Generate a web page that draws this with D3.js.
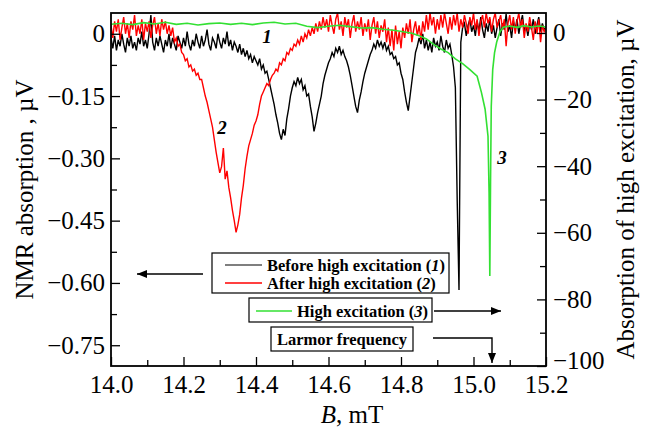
<!DOCTYPE html>
<html>
<head>
<meta charset="utf-8">
<script src="https://cdn.jsdelivr.net/npm/d3@7"></script>
<style>
  body { margin: 0; background: #fff; }
  svg { display: block; font-family: "Liberation Serif", "Times New Roman", serif; }
</style>
</head>
<body>
<div id="chart"></div>
<script>
// field grid for traces 1 and 2, mT
var bStart = 14.0, bStep = 0.005;

// trace 1: before high excitation, uV (left axis)
var beforeExc = [
  -0.010, -0.035, -0.005, -0.040, -0.015, -0.030, 0.000, -0.025, -0.045, -0.010,
  -0.030, -0.005, -0.035, -0.020, -0.040, -0.010, -0.025, 0.005, -0.030, -0.015,
  -0.035, 0.000, 0.045, -0.020, -0.040, -0.010, -0.030, -0.005, -0.025, -0.045,
  -0.015, -0.030, 0.000, -0.035, -0.010, -0.025, -0.040, -0.005, -0.020, -0.035,
  -0.010, -0.030, 0.005, -0.025, -0.040, -0.015, -0.030, 0.000, -0.020, -0.035,
  -0.005, -0.030, -0.015, 0.010, -0.025, -0.040, -0.010, -0.020, -0.035, 0.000,
  -0.020, -0.035, -0.010, -0.025, 0.005, -0.030, -0.015, -0.040, -0.020, -0.030,
  -0.045, -0.025, -0.050, -0.035, -0.055, -0.040, -0.060, -0.050, -0.070, -0.055,
  -0.065, -0.075, -0.060, -0.085, -0.075, -0.095, -0.090, -0.110, -0.130, -0.150,
  -0.170, -0.195, -0.215, -0.240, -0.255, -0.230, -0.245, -0.205, -0.180, -0.150,
  -0.130, -0.115, -0.125, -0.105, -0.120, -0.110, -0.135, -0.125, -0.150, -0.145,
  -0.175, -0.200, -0.235, -0.215, -0.190, -0.170, -0.150, -0.120, -0.100, -0.085,
  -0.070, -0.060, -0.045, -0.055, -0.035, -0.045, -0.030, -0.050, -0.040, -0.055,
  -0.065, -0.080, -0.100, -0.125, -0.150, -0.175, -0.190, -0.160, -0.140, -0.115,
  -0.095, -0.080, -0.065, -0.050, -0.040, -0.025, -0.035, -0.015, -0.030, -0.020,
  -0.035, -0.020, -0.040, -0.030, -0.050, -0.045, -0.060, -0.055, -0.075, -0.070,
  -0.095, -0.110, -0.140, -0.165, -0.185, -0.150, -0.115, -0.080, -0.045, -0.030,
  -0.010, -0.025, 0.000, -0.035, -0.015, -0.040, -0.020, -0.045, -0.010, -0.030,
  -0.020, -0.040, -0.005, -0.030, -0.045, -0.015, -0.035, -0.025, -0.050, -0.080,
  -0.130, -0.400, -0.617, -0.020, 0.015, 0.025, -0.005, 0.020, 0.035, 0.005,
  0.020, -0.005, 0.030, 0.005, 0.040, 0.010, -0.010, 0.025, 0.005, 0.035,
  0.000, 0.020, -0.010, 0.015, 0.035, -0.005, 0.025, 0.010, 0.048, 0.005,
  0.020, -0.010, 0.030, 0.010, 0.035, 0.000, 0.025, 0.045, 0.005, 0.020,
  -0.005, 0.025, 0.010, 0.035, 0.000, 0.020, 0.040, 0.005, 0.025, 0.010,
  0.015
];

// trace 2: after high excitation, uV (left axis)
var afterExc = [
  0.020, -0.010, 0.030, 0.005, 0.035, -0.015, 0.015, 0.040, 0.000, 0.025,
  -0.010, 0.030, 0.010, 0.045, -0.005, 0.020, 0.000, 0.035, -0.015, 0.025,
  0.005, 0.030, -0.010, 0.020, 0.040, 0.000, 0.025, -0.005, 0.035, 0.010,
  0.030, 0.000, 0.020, -0.005, 0.015, -0.020, -0.010, -0.030, -0.025, -0.045,
  -0.050, -0.065, -0.060, -0.080, -0.075, -0.090, -0.085, -0.100, -0.095, -0.110,
  -0.110, -0.130, -0.150, -0.165, -0.185, -0.205, -0.225, -0.255, -0.285, -0.310,
  -0.335, -0.320, -0.275, -0.350, -0.330, -0.370, -0.395, -0.425, -0.450, -0.478,
  -0.460, -0.435, -0.395, -0.365, -0.325, -0.295, -0.270, -0.255, -0.240, -0.220,
  -0.210, -0.195, -0.170, -0.150, -0.140, -0.130, -0.120, -0.125, -0.110, -0.100,
  -0.095, -0.085, -0.090, -0.070, -0.075, -0.060, -0.065, -0.045, -0.050, -0.035,
  -0.040, -0.025, -0.030, -0.015, -0.025, -0.005, -0.020, 0.000, -0.010, 0.010,
  -0.005, 0.015, 0.000, 0.025, 0.005, 0.030, 0.010, 0.040, 0.015, 0.035,
  0.005, 0.045, 0.020, 0.000, 0.035, 0.050, 0.010, 0.030, -0.005, 0.040,
  0.015, 0.035, -0.010, 0.025, 0.045, 0.005, 0.030, 0.010, 0.040, -0.005,
  0.025, 0.005, 0.035, -0.015, 0.020, 0.040, 0.000, 0.030, -0.010, 0.020,
  0.005, 0.035, -0.020, 0.015, -0.030, 0.010, -0.040, 0.020, -0.025, 0.005,
  -0.035, 0.015, -0.010, 0.025, 0.000, 0.035, -0.020, 0.010, 0.030, -0.005,
  0.020, -0.015, 0.030, 0.005, 0.045, 0.010, 0.050, 0.020, 0.040, 0.000,
  0.035, 0.010, 0.045, 0.015, 0.050, 0.025, 0.000, 0.040, 0.010, 0.045,
  0.020, 0.050, 0.005, 0.035, 0.015, 0.045, 0.025, 0.000, 0.040, 0.020,
  0.050, 0.010, 0.035, -0.005, 0.030, 0.045, 0.015, 0.050, 0.025, 0.040,
  0.005, 0.035, 0.050, 0.015, 0.030, 0.045, 0.010, 0.035, -0.030, 0.025,
  0.045, 0.010, 0.040, 0.000, 0.030, 0.050, 0.015, 0.035, -0.010, 0.025,
  0.005, 0.040, 0.015, -0.015, 0.030, 0.000, 0.035, -0.020, 0.020, 0.005,
  0.015
];

// trace 3: high excitation, uV (right axis)
var highB = [
  14.00, 14.03, 14.06, 14.09, 14.12, 14.15, 14.18, 14.21, 14.24, 14.27,
  14.30, 14.33, 14.36, 14.39, 14.42, 14.45, 14.48, 14.51, 14.54, 14.57,
  14.60, 14.63, 14.66, 14.69, 14.72, 14.75, 14.78, 14.81, 14.83, 14.85,
  14.87, 14.89, 14.91, 14.93, 14.95, 14.97, 14.99, 15.01, 15.022, 15.032,
  15.040, 15.043, 15.045, 15.047, 15.049, 15.053, 15.058, 15.064, 15.073, 15.082,
  15.10, 15.12, 15.14, 15.16, 15.18, 15.20
];
var highV = [
  2.6, 2.9, 2.5, 3.1, 2.7, 3.2, 2.6, 2.9, 2.4, 2.8,
  3.0, 2.6, 2.9, 2.5, 3.0, 3.2, 2.7, 2.9, 2.0, 1.6,
  2.0, 2.3, 1.9, 1.5, 1.6, 1.1, 0.8, 0.3, -0.1, -0.8,
  -1.8, -3.4, -4.8, -5.9, -7.8, -9.2, -11.0, -13.0, -17.9, -22.9,
  -31.0, -48.0, -73.0, -45.0, -22.0, -11.0, -6.0, -2.7, 0.3, 1.7,
  2.1, 1.7, 2.2, 1.8, 2.1, 1.8
];

var xTicks = [14.0, 14.2, 14.4, 14.6, 14.8, 15.0, 15.2];
var xMinor = [14.1, 14.3, 14.5, 14.7, 14.9, 15.1];
var leftTicks = [0, -0.15, -0.30, -0.45, -0.60, -0.75];
var leftMinor = [-0.075, -0.225, -0.375, -0.525, -0.675];
var rightTicks = [0, -20, -40, -60, -80, -100];
var rightMinor = [-10, -30, -50, -70, -90];

var svgWidth = 651, svgHeight = 432;
var margin = { top: 13, right: 105, bottom: 66, left: 111 };
var width = svgWidth - margin.left - margin.right;
var height = svgHeight - margin.top - margin.bottom;

var svg = d3.select("#chart").append("svg")
  .attr("width", svgWidth)
  .attr("height", svgHeight);

var defs = svg.append("defs");
defs.append("clipPath").attr("id", "plotClip")
  .append("rect").attr("width", width).attr("height", height);
defs.append("marker")
  .attr("id", "arrow")
  .attr("viewBox", "0 0 10 8")
  .attr("refX", 10).attr("refY", 4)
  .attr("markerWidth", 10).attr("markerHeight", 8)
  .attr("markerUnits", "userSpaceOnUse")
  .attr("orient", "auto")
  .append("path").attr("d", "M0,0L10,4L0,8Z").attr("fill", "#000");

var chart = svg.append("g")
  .attr("transform", `translate(${margin.left}, ${margin.top})`);

var x = d3.scaleLinear().domain([14.0, 15.2]).range([0, width]);
var yLeft = d3.scaleLinear().domain([-0.8, 0.05]).range([height, 0]);
var yRight = d3.scaleLinear().domain([-100, 6]).range([height, 0]);

// curves
var gridLine = d3.line()
  .x((d, i) => x(bStart + i * bStep))
  .y(d => yLeft(d));

var curves = chart.append("g").attr("clip-path", "url(#plotClip)");
curves.append("path")
  .attr("d", gridLine(beforeExc))
  .attr("fill", "none").attr("stroke", "#000").attr("stroke-width", 1.4);
curves.append("path")
  .attr("d", gridLine(afterExc))
  .attr("fill", "none").attr("stroke", "#ff0000").attr("stroke-width", 1.4);
curves.append("path")
  .attr("d", d3.line().x(d => x(d[0])).y(d => yRight(d[1]))(d3.zip(highB, highV)))
  .attr("fill", "none").attr("stroke", "#33e033").attr("stroke-width", 1.6);

// axes, ticks point inward
function styleAxis(g) {
  g.select(".domain").remove();
  g.selectAll("line").attr("stroke", "#000").attr("stroke-width", 1.3);
  g.selectAll("text").attr("font-size", 25).attr("fill", "#000")
    .attr("font-family", "Liberation Serif, Times New Roman, serif");
}

chart.append("g")
  .attr("transform", `translate(0, ${height})`)
  .call(d3.axisBottom(x).tickValues(xTicks).tickSize(-9).tickPadding(9).tickFormat(d3.format(".1f")))
  .call(styleAxis);
chart.append("g")
  .attr("transform", `translate(0, ${height})`)
  .call(d3.axisBottom(x).tickValues(xMinor).tickSize(-6).tickFormat(""))
  .call(styleAxis);

chart.append("g")
  .call(d3.axisLeft(yLeft).tickValues(leftTicks).tickSize(-9).tickPadding(6)
    .tickFormat(d => d === 0 ? "0" : d3.format(".2f")(d)))
  .call(styleAxis);
chart.append("g")
  .call(d3.axisLeft(yLeft).tickValues(leftMinor).tickSize(-6).tickFormat(""))
  .call(styleAxis);

chart.append("g")
  .attr("transform", `translate(${width}, 0)`)
  .call(d3.axisRight(yRight).tickValues(rightTicks).tickSize(-9).tickPadding(7))
  .call(styleAxis)
  .selectAll("text").attr("dy", d => d === -100 ? "0.1em" : "0.32em");
chart.append("g")
  .attr("transform", `translate(${width}, 0)`)
  .call(d3.axisRight(yRight).tickValues(rightMinor).tickSize(-6).tickFormat(""))
  .call(styleAxis);

// frame
chart.append("rect")
  .attr("width", width).attr("height", height)
  .attr("fill", "none").attr("stroke", "#000").attr("stroke-width", 1.8);

// axis titles
var xTitle = svg.append("text")
  .attr("x", 352).attr("y", 423)
  .attr("text-anchor", "middle").attr("font-size", 25);
xTitle.append("tspan").attr("font-style", "italic").text("B");
xTitle.append("tspan").text(", mT");

svg.append("text")
  .attr("transform", `translate(33, ${margin.top + height / 2}) rotate(-90)`)
  .attr("text-anchor", "middle").attr("font-size", 25)
  .text("NMR absorption , \u00b5V");

svg.append("text")
  .attr("transform", `translate(634, ${margin.top + height / 2}) rotate(-90)`)
  .attr("text-anchor", "middle").attr("font-size", 25)
  .text("Absorption of high excitation, \u00b5V");

// curve numbers
var curveLabels = [["1", 267, 43], ["2", 222, 134], ["3", 502, 164]];
svg.selectAll(".clabel").data(curveLabels).enter().append("text")
  .attr("class", "clabel")
  .attr("x", d => d[1]).attr("y", d => d[2])
  .attr("text-anchor", "middle")
  .attr("font-size", 19).attr("font-style", "italic").attr("font-weight", "bold")
  .text(d => d[0]);

// legend boxes
function legendText(sel, label, num) {
  sel.append("tspan").text(label + " (");
  sel.append("tspan").attr("font-style", "italic").text(num);
  sel.append("tspan").text(")");
}

svg.append("rect").attr("x", 212).attr("y", 253).attr("width", 237).attr("height", 40)
  .attr("fill", "#fff").attr("stroke", "#000").attr("stroke-width", 1.2);
svg.append("line").attr("x1", 225).attr("x2", 262).attr("y1", 265).attr("y2", 265)
  .attr("stroke", "#000").attr("stroke-width", 1.2);
svg.append("line").attr("x1", 225).attr("x2", 262).attr("y1", 283).attr("y2", 283)
  .attr("stroke", "#ff0000").attr("stroke-width", 1.6);
svg.append("text").attr("x", 267).attr("y", 271).attr("font-size", 16.5).attr("font-weight", "bold")
  .call(legendText, "Before high excitation", "1");
svg.append("text").attr("x", 267).attr("y", 289).attr("font-size", 16.5).attr("font-weight", "bold")
  .call(legendText, "After high excitation", "2");

svg.append("rect").attr("x", 249).attr("y", 298).attr("width", 183).attr("height", 24)
  .attr("fill", "#fff").attr("stroke", "#000").attr("stroke-width", 1.2);
svg.append("line").attr("x1", 256).attr("x2", 292).attr("y1", 311).attr("y2", 311)
  .attr("stroke", "#33e033").attr("stroke-width", 1.6);
svg.append("text").attr("x", 297).attr("y", 317).attr("font-size", 16.5).attr("font-weight", "bold")
  .call(legendText, "High excitation", "3");

svg.append("rect").attr("x", 271).attr("y", 327).attr("width", 142).attr("height", 24)
  .attr("fill", "#fff").attr("stroke", "#000").attr("stroke-width", 1.2);
svg.append("text").attr("x", 342).attr("y", 345).attr("text-anchor", "middle")
  .attr("font-size", 16.5).attr("font-weight", "bold")
  .text("Larmor frequency");

// arrows
svg.append("line").attr("x1", 203).attr("y1", 274).attr("x2", 137).attr("y2", 274)
  .attr("stroke", "#000").attr("stroke-width", 1.4).attr("marker-end", "url(#arrow)");
svg.append("line").attr("x1", 434).attr("y1", 311).attr("x2", 501).attr("y2", 311)
  .attr("stroke", "#000").attr("stroke-width", 1.4).attr("marker-end", "url(#arrow)");
svg.append("path").attr("d", "M433,338H492V363")
  .attr("fill", "none").attr("stroke", "#000").attr("stroke-width", 1.4)
  .attr("marker-end", "url(#arrow)");
</script>
</body>
</html>
